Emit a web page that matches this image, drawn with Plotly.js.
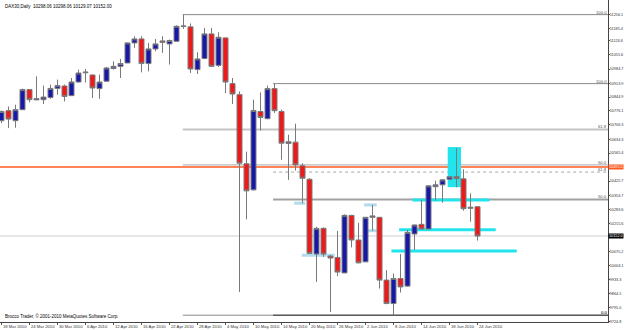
<!DOCTYPE html>
<html><head><meta charset="utf-8">
<script src="https://cdn.plot.ly/plotly-3.0.1.min.js"></script>
<style>html,body{margin:0;padding:0;background:#fff}#chart{width:625px;height:330px}</style>
</head><body><div id="chart"></div>
<script>
// ---- data ----
const dates = ["2010.03.18","2010.03.19","2010.03.22","2010.03.23","2010.03.24","2010.03.25","2010.03.26","2010.03.29","2010.03.30","2010.03.31",
"2010.04.01","2010.04.02","2010.04.06","2010.04.07","2010.04.08","2010.04.09","2010.04.12","2010.04.13","2010.04.14","2010.04.15",
"2010.04.16","2010.04.19","2010.04.20","2010.04.21","2010.04.22","2010.04.23","2010.04.26","2010.04.27","2010.04.28","2010.04.29",
"2010.04.30","2010.05.03","2010.05.04","2010.05.05","2010.05.06","2010.05.07","2010.05.10","2010.05.11","2010.05.12","2010.05.13",
"2010.05.14","2010.05.17","2010.05.18","2010.05.19","2010.05.20","2010.05.21","2010.05.24","2010.05.25","2010.05.26","2010.05.27",
"2010.05.28","2010.06.01","2010.06.02","2010.06.03","2010.06.04","2010.06.07","2010.06.08","2010.06.09","2010.06.10","2010.06.11",
"2010.06.14","2010.06.15","2010.06.16","2010.06.17","2010.06.18","2010.06.21","2010.06.22","2010.06.23","2010.06.24"];
const openP = [10727,10777,10727,10782,10882,10831,10832,10843,10888,10900,
10852,10920,10966,10955,10887,10924,10987,10998,11015,11115,
11135,11012,11085,11125,11110,11123,11197,11195,10982,11037,
11160,11003,11140,10912,10857,10512,10382,10773,10737,10887,
10773,10613,10620,10502,10435,10062,10190,10052,10045,9968,
10255,10132,10023,10245,10245,9932,9815,9940,9902,10162,
10210,10187,10398,10407,10435,10448,10437,10290,10298.06];
const highP = [10778,10798,10807,10887,10885,10948,10902,10907,10932,10907,
10940,10982,10985,10957,10957,10995,11023,11035,11117,11148,
11148,11115,11135,11148,11132,11202,11256.1,11212,11068,11190,
11190,11168,11142,10940,10873,10573,10832,10868,10902,10912,
10782,10657,10712,10515,10440,10198,10195,10057,10177,10260,
10257,10218,10247,10307,10247,9982,9965,10062,10182,10209,
10332,10404,10428,10435,10452,10590,10485,10365,10298.06];
const lowP = [10715,10690,10692,10780,10818,10829,10810,10836,10857,10823,
10850,10917,10918,10840,10836,10922,10982,10940,11014,11090,
10968,10973,11073,11065,11007,11122,11185,10965,10960,11034,
10995,10995,10865,10810,9873,10235,10379,10678,10734,10766,
10532,10432,10478,10315,10064,9923,10048,9773,9952,9967,
10095,10015,10022,10178,9890,9812,9757,9870,9899,10082,
10184,10185,10328,10318,10432,10395,10278,10223,10129.07];
const closeP = [10773,10735,10782,10882,10832,10837,10845,10888,10902,10848,
10920,10965,10969,10890,10920,10990,10998,11012,11115,11135,
11012,11085,11110,11118,11127,11198,11199,10985,11035,11160,
10998,11143,10920,10860,10515,10377,10778,10743,10887,10777,
10615,10622,10507,10440,10065,10190,10062,10042,9972,10255,
10132,10018,10245,10252,9932,9815,9940,9898,10170,10207,
10187,10402,10407,10432,10448,10438,10288,10295,10152.00];

const tickDates = ["2010.03.18","2010.03.24","2010.03.30","2010.04.06","2010.04.12","2010.04.16","2010.04.22","2010.04.28","2010.05.04",
"2010.05.10","2010.05.14","2010.05.20","2010.05.26","2010.06.02","2010.06.08","2010.06.14","2010.06.18","2010.06.24"];
const tickLabels = ["18 Mar 2010","24 Mar 2010","30 Mar 2010","6 Apr 2010","12 Apr 2010","16 Apr 2010","22 Apr 2010","28 Apr 2010","4 May 2010",
"10 May 2010","14 May 2010","20 May 2010","26 May 2010","2 Jun 2010","8 Jun 2010","14 Jun 2010","18 Jun 2010","24 Jun 2010"];

const priceTicks = [11256.1,11185.4,11126.6,11055.6,10984.7,10913.9,10844.9,10776.1,10706.3,10634.3,10565.4,
10425.7,10354.7,10283.6,10215.6,10075.2,10004.1,9933.3,9864.5,9795.0,9724.8];

// Fibonacci retracements (level %, price) anchored at swing-high bar
const fibLevels = ["100.0","61.8","50.0","0.0"];
const fib1Prices = [11256.1,10683.5,10506.5,9757.0];
const fib2Prices = [10912.0,10470.8,10334.5,9757.0];
const fibStartBars = [25.9, 38.8];

const orangeLevel = 10495.5;
const bidPrice = 10152.00;
const header = "DAX30,Daily  10298.06 10298.06 10129.07 10152.00";
const footer = "Brocco Trader, \u00a9 2001-2010 MetaQuotes Software Corp.";

// cyan drawing objects: [x0bar, x1bar, price]
const cyanRect = [63.74, 65.64, 10395.5, 10595.5];
const cyanLines = [[58.7,69.7,10332],[56.8,70.6,10183.5],[55.7,73.6,10077]];
const paleMarks = [[41.8,43.4,10315.5],[42.9,47.6,10055.5],[51.8,53.6,10307],[52.1,53.6,10178.5]];

// ---- chart ----
const xEnd = 86.64;
const F = "Liberation Sans, Arial, sans-serif";
const FS = 4.2;
const trace = {
  type:'candlestick', x:dates, open:openP, high:highP, low:lowP, close:closeP,
  increasing:{fillcolor:'#1818a8', line:{color:'#7a7a7a', width:1}},
  decreasing:{fillcolor:'#f01818', line:{color:'#7a7a7a', width:1}},
  whiskerwidth:0, hoverinfo:'skip'
};

const shapes = [];
const annotations = [];
shapes.push({type:'line', xref:'paper', x0:0, x1:1, yref:'y', y0:bidPrice, y1:bidPrice, line:{color:'#cfcfcf', width:1}, layer:'below'});
const fibStyles = [
  [{color:'#8a8a8a',width:1},{color:'#c4c4c4',width:2},{color:'#a8a8a8',width:1},{color:'#8a8a8a',width:1}],
  [{color:'#8a8a8a',width:1},{color:'#a8a8a8',width:1,dash:'dot'},{color:'#a0a0a0',width:2},{color:'#303030',width:1}]
];
[fib1Prices, fib2Prices].forEach((arr, k) => {
  arr.forEach((p, j) => {
    shapes.push({type:'line', xref:'x', x0:fibStartBars[k], x1:xEnd, yref:'y', y0:p, y1:p, line:fibStyles[k][j], layer:'below'});
    annotations.push({xref:'x', x:xEnd, xanchor:'right', yref:'y', y:p, yanchor:'bottom', text:fibLevels[j], showarrow:false,
      font:{family:F, size:FS, color:'#555'}, borderpad:0, yshift:-1});
  });
});
shapes.push({type:'line', xref:'paper', x0:0, x1:1, yref:'y', y0:orangeLevel, y1:orangeLevel, line:{color:'#ff5a1e', width:1.5}, layer:'below'});
shapes.push({type:'rect', xref:'x', x0:cyanRect[0], x1:cyanRect[1], yref:'y', y0:cyanRect[2], y1:cyanRect[3], fillcolor:'#22e4ec', line:{width:0}, layer:'below'});
cyanLines.forEach(c => shapes.push({type:'line', xref:'x', x0:c[0], x1:c[1], yref:'y', y0:c[2], y1:c[2], line:{color:'#22e4ec', width:3}, layer:'below'}));
paleMarks.forEach(c => shapes.push({type:'line', xref:'x', x0:c[0], x1:c[1], yref:'y', y0:c[2], y1:c[2], line:{color:'#b0dcec', width:3}, layer:'below'}));

// date labels to the right of each tick
tickDates.forEach((d, i) => annotations.push({xref:'x', x:d, xanchor:'left', xshift:0, yref:'paper', y:0, yanchor:'top', yshift:-1,
  text:tickLabels[i], showarrow:false, font:{family:F, size:FS, color:'#333'}, borderpad:0}));

annotations.push({xref:'paper', x:1, xanchor:'left', xshift:0, yref:'y', y:bidPrice, text:bidPrice.toFixed(1), showarrow:false,
  bgcolor:'#000', font:{family:F, size:3.8, color:'#fff'}, borderpad:0});
annotations.push({xref:'paper', x:1, xanchor:'left', xshift:0, yref:'y', y:orangeLevel, text:orangeLevel.toFixed(1), showarrow:false,
  bgcolor:'#ff5a1e', font:{family:F, size:3.8, color:'#fff'}, borderpad:0});
annotations.push({xref:'paper', x:0, xanchor:'left', xshift:3, yref:'paper', y:1, yanchor:'top', yshift:-2, text:header, showarrow:false,
  font:{family:F, size:4.5, color:'#000'}});
annotations.push({xref:'paper', x:0, xanchor:'left', xshift:3, yref:'paper', y:0, yanchor:'bottom', yshift:1, text:footer, showarrow:false,
  font:{family:F, size:4.5, color:'#000'}});

const layout = {
  width:625, height:330, margin:{l:0, r:17, t:0, b:8},
  paper_bgcolor:'#fff', plot_bgcolor:'#fff', showlegend:false, hovermode:false,
  boxgap:0.29, boxgroupgap:0,
  font:{family:F, size:FS, color:'#333'},
  xaxis:{type:'category', range:[-0.214, xEnd], tickvals:tickDates, showticklabels:false,
    ticks:'outside', ticklen:2, tickcolor:'#555',
    showline:true, linecolor:'#444', linewidth:1, showgrid:false, zeroline:false,
    rangeslider:{visible:false}, fixedrange:true},
  yaxis:{side:'right', range:[9723, 11329], tickvals:priceTicks, ticktext:priceTicks.map(v=>v.toFixed(1)),
    ticks:'outside', ticklen:1, tickcolor:'#555', ticklabelstandoff:-1, showline:true, linecolor:'#444', linewidth:1,
    showgrid:false, zeroline:false, tickfont:{family:F, size:3.8, color:'#333'}, fixedrange:true},
  shapes:shapes, annotations:annotations
};
Plotly.newPlot('chart', [trace], layout, {staticPlot:true, displayModeBar:false});
</script></body></html>
